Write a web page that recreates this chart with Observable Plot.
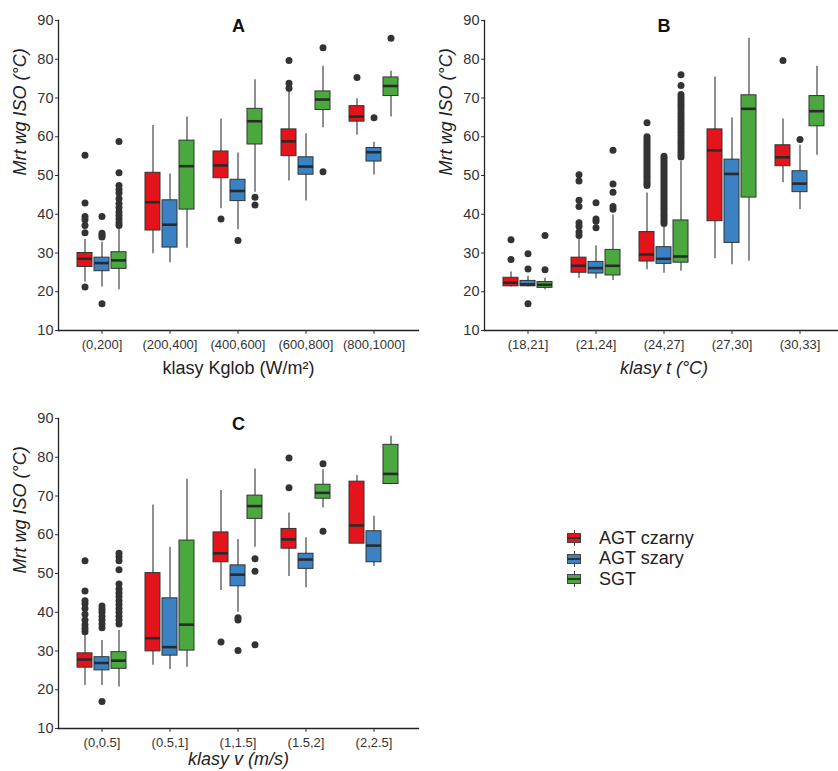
<!DOCTYPE html>
<html>
<head>
<meta charset="utf-8">
<script src="https://cdn.jsdelivr.net/npm/d3@7"></script>
<script src="https://cdn.jsdelivr.net/npm/@observablehq/plot@0.6"></script>
<style>
  html, body { margin: 0; padding: 0; background: #fff; }
  #page { position: relative; width: 838px; height: 771px; overflow: hidden; font-family: "Liberation Sans", Arial, sans-serif; }
  .panel { position: absolute; }
  #legend { position: absolute; left: 567px; top: 528px; font-size: 18px; color: #222; }
  .lrow { display: flex; align-items: center; height: 20.5px; }
  .sw { position: relative; width: 14px; height: 16px; margin-right: 18px; }
  .sw .stub { position: absolute; left: 6.5px; top: 0; width: 1px; height: 16px; background: #444; }
  .sw .box { position: absolute; left: 0; top: 3px; width: 12px; height: 8px; border: 1px solid #444; }
  .sw .med { position: absolute; left: 0; top: 7px; width: 14px; height: 2px; background: #333; }
</style>
</head>
<body>
<div id="page"></div>
<script>
const series = ["AGT czarny", "AGT szary", "SGT"];
const seriesColors = ["#e3141c", "#3b82c4", "#4aa83f"];
const yTicks = [10, 20, 30, 40, 50, 60, 70, 80, 90];

const catsA = ["(0,200]", "(200,400]", "(400,600]", "(600,800]", "(800,1000]"];
const catsB = ["(18,21]", "(21,24]", "(24,27]", "(27,30]", "(30,33]"];
const catsC = ["(0,0.5]", "(0.5,1]", "(1,1.5]", "(1.5,2]", "(2,2.5]"];

// [lower whisker, q1, median, q3, upper whisker] per category x series
const statsA = [
  [22.5, 26.4, 28.5, 30.0, 33.5], [21.2, 25.3, 27.4, 28.8, 32.8], [20.5, 25.9, 28.1, 30.2, 36.3],
  [29.8, 35.8, 43.1, 50.7, 62.9], [27.5, 31.4, 37.3, 43.6, 50.4], [31.2, 41.2, 52.4, 59.0, 65.1],
  [41.4, 49.3, 52.6, 56.2, 64.6], [36.0, 43.4, 46.0, 48.9, 55.8], [45.7, 58.0, 64.0, 67.2, 74.7],
  [48.6, 55.0, 58.8, 61.9, 71.9], [43.4, 50.2, 52.3, 54.7, 60.8], [62.3, 66.9, 69.6, 71.7, 78.2],
  [60.4, 63.9, 65.2, 67.9, 69.8], [50.1, 53.6, 56.0, 57.1, 58.6], [65.1, 70.5, 73.1, 75.3, 76.9]
];
const outliersA = [
  [21.2, 35.2, 37.1, 38.6, 39.4, 42.9, 55.2], [16.9, 34.1, 34.6, 35.1, 39.4],
  [37.1, 37.8, 38.8, 39.7, 40.6, 41.7, 42.7, 44.0, 45.5, 46.4, 47.4, 50.7, 58.8],
  [], [], [],
  [38.8], [33.2], [42.4, 44.4],
  [72.5, 73.8, 79.7], [], [51.0, 83.0],
  [75.3], [64.9], [85.4]
];

const statsB = [
  [21.2, 21.4, 22.3, 23.6, 25.1], [21.2, 21.4, 21.9, 22.8, 24.0], [20.5, 21.0, 21.8, 22.5, 23.5],
  [23.4, 24.9, 26.7, 28.8, 34.1], [23.3, 24.7, 26.1, 27.7, 31.9], [22.9, 24.2, 26.7, 30.8, 39.8],
  [25.7, 27.8, 29.6, 35.4, 45.5], [24.8, 27.2, 28.5, 31.5, 37.1], [25.3, 27.5, 29.1, 38.4, 53.6],
  [28.5, 38.2, 56.5, 61.9, 75.4], [27.0, 32.6, 50.4, 54.1, 64.9], [27.9, 44.3, 67.2, 70.7, 85.4],
  [48.1, 52.4, 54.7, 57.8, 64.6], [41.2, 45.7, 47.9, 51.1, 57.8], [55.2, 62.7, 66.6, 70.5, 78.2]
];
const outliersB = [
  [28.3, 33.4], [16.9, 25.9, 29.8], [25.7, 34.5],
  [34.5, 35.4, 36.9, 37.8, 42.0, 43.6, 48.6, 50.2], [36.5, 38.2, 38.8, 43.0], [41.3, 42.0, 45.7, 47.8, 56.5],
  [47.4, 48.0, 48.6, 49.2, 49.8, 50.4, 51.0, 51.6, 52.2, 52.8, 53.4, 54.0, 54.6, 55.2, 55.8, 56.4, 57.0, 57.6, 58.2, 58.8, 59.4, 60.0, 63.6],
  [37.6, 38.2, 38.8, 39.4, 40.0, 40.6, 41.2, 41.8, 42.4, 43.0, 43.6, 44.2, 44.8, 45.4, 46.0, 46.6, 47.2, 47.8, 48.4, 49.0, 49.6, 50.2, 50.8, 51.4, 52.0, 52.6, 53.2, 53.8, 54.4, 55.0],
  [54.8, 55.5, 56.2, 56.9, 57.6, 58.3, 59.0, 59.7, 60.4, 61.1, 61.8, 62.5, 63.2, 63.9, 64.6, 65.3, 66.0, 66.7, 67.4, 68.1, 68.8, 69.5, 70.2, 70.9, 73.2, 76.0],
  [], [], [],
  [79.7], [59.3], []
];

const statsC = [
  [21.1, 25.7, 27.8, 29.4, 34.2], [21.1, 25.0, 26.9, 28.4, 32.7], [20.7, 25.4, 27.5, 29.7, 35.3],
  [26.3, 29.9, 33.3, 50.1, 67.7], [25.2, 28.8, 31.0, 43.6, 56.8], [25.8, 30.1, 36.8, 58.5, 74.3],
  [45.6, 52.9, 55.2, 60.6, 71.4], [40.0, 46.7, 49.7, 52.1, 58.8], [56.8, 64.1, 67.4, 70.1, 77.0],
  [49.2, 56.4, 58.8, 61.5, 65.6], [46.3, 51.2, 53.6, 55.1, 59.2], [66.9, 69.3, 70.8, 72.9, 76.8],
  [57.7, 57.7, 62.4, 73.7, 75.3], [51.8, 52.9, 57.2, 60.9, 64.8], [72.9, 73.1, 75.7, 83.2, 85.4]
];
const outliersC = [
  [35.0, 35.8, 36.8, 38.0, 39.5, 41.0, 42.2, 43.0, 45.5, 53.3],
  [17.0, 36.0, 37.0, 38.0, 39.0, 40.0, 40.8, 41.6],
  [37.0, 38.0, 39.0, 40.0, 41.0, 42.0, 43.0, 44.0, 45.0, 46.0, 47.3, 51.0, 53.3, 54.3, 55.2],
  [], [], [],
  [32.3], [30.1, 38.0, 38.6], [31.6, 50.6, 53.8],
  [72.1, 79.8], [], [60.9, 78.3],
  [], [], []
];

const FONT = '"Liberation Sans", Arial, sans-serif';

function panel({cats, stats, outliers, title, xLabel, xItalic, left, top, width, height, marginLeft, marginRight, xLabelDy}) {
  const marginTop = 20;
  const plotBottom = 330;
  const marginBottom = height - plotBottom;
  const L = marginLeft, R = width - marginRight;
  const unit = (R - L) / 5.2;
  const keys = [];
  cats.forEach((c, i) => {
    series.forEach(s => keys.push(c + "|" + s));
    if (i < cats.length - 1) keys.push("gap" + i);
  });
  const centers = cats.map(c => c + "|" + series[1]);
  const rows = stats.map((st, j) => ({
    key: cats[Math.floor(j / 3)] + "|" + series[j % 3],
    series: series[j % 3],
    low: st[0], q1: st[1], med: st[2], q3: st[3], high: st[4]
  }));
  const pts = rows.flatMap((r, j) => outliers[j].map(v => ({key: r.key, v})));

  const chart = Plot.plot({
    width, height, marginLeft, marginRight, marginTop, marginBottom,
    style: {fontFamily: FONT, background: "transparent", overflow: "visible"},
    x: {type: "band", domain: keys, range: [L + 0.225 * unit, R - 0.225 * unit], padding: 0},
    y: {domain: [10, 90]},
    color: {domain: series, range: seriesColors},
    marks: [
      Plot.ruleX(rows, {x: "key", y1: "low", y2: "high", stroke: "#333", strokeWidth: 1.1}),
      Plot.barY(rows, {x: "key", y1: "q1", y2: "q3", fill: "series", stroke: "#333", strokeWidth: 1, insetLeft: 1, insetRight: 1}),
      Plot.tickY(rows, {x: "key", y: "med", stroke: "#2a2a2a", strokeWidth: 2.6, insetLeft: 1, insetRight: 1}),
      Plot.dot(pts, {x: "key", y: "v", r: 3.5, fill: "#333", stroke: "none"}),
      Plot.axisY({ticks: yTicks, tickSize: 3, tickPadding: 2, fontSize: 14.5, color: "#333", label: null}),
      Plot.axisX({ticks: centers, tickFormat: k => k.split("|")[0], tickSize: 4, tickPadding: 5, fontSize: 13, color: "#333", label: null}),
      Plot.frame({anchor: "left", stroke: "#222", strokeWidth: 1.3}),
      Plot.frame({anchor: "bottom", stroke: "#222", strokeWidth: 1.3}),
      Plot.text([title], {frameAnchor: "top", dy: 6, text: d => d, fontSize: 18, fontWeight: "bold", fill: "#111", lineAnchor: "middle"}),
      Plot.text([xLabel], {frameAnchor: "bottom", dy: xLabelDy, text: d => d, fontSize: 18, fontStyle: xItalic ? "italic" : "normal", fill: "#222", lineAnchor: "middle"}),
      Plot.text(["Mrt wg ISO (°C)"], {frameAnchor: "left", dx: -38, rotate: -90, text: d => d, fontSize: 18, fontStyle: "italic", fill: "#222", lineAnchor: "middle"})
    ]
  });
  chart.classList.add("panel");
  chart.style.left = left + "px";
  chart.style.top = top + "px";
  return chart;
}

const page = document.getElementById("page");
page.appendChild(panel({cats: catsA, stats: statsA, outliers: outliersA, title: "A", xLabel: "klasy Kglob (W/m²)", xItalic: false,
  left: 0, top: 0, width: 420, height: 390, marginLeft: 58, marginRight: 2, xLabelDy: 38}));
page.appendChild(panel({cats: catsB, stats: statsB, outliers: outliersB, title: "B", xLabel: "klasy t (°C)", xItalic: true,
  left: 419, top: 0, width: 424, height: 390, marginLeft: 65, marginRight: 0, xLabelDy: 38}));
page.appendChild(panel({cats: catsC, stats: statsC, outliers: outliersC, title: "C", xLabel: "klasy v (m/s)", xItalic: true,
  left: 0, top: 398, width: 420, height: 373, marginLeft: 58, marginRight: 2, xLabelDy: 31}));

const legend = document.createElement("div");
legend.id = "legend";
series.forEach((s, i) => {
  const row = document.createElement("div");
  row.className = "lrow";
  const sw = document.createElement("div");
  sw.className = "sw";
  sw.innerHTML = '<div class="stub"></div><div class="box" style="background:' + seriesColors[i] + '"></div><div class="med"></div>';
  const lab = document.createElement("span");
  lab.textContent = s;
  row.appendChild(sw);
  row.appendChild(lab);
  legend.appendChild(row);
});
page.appendChild(legend);
</script>
</body>
</html>
